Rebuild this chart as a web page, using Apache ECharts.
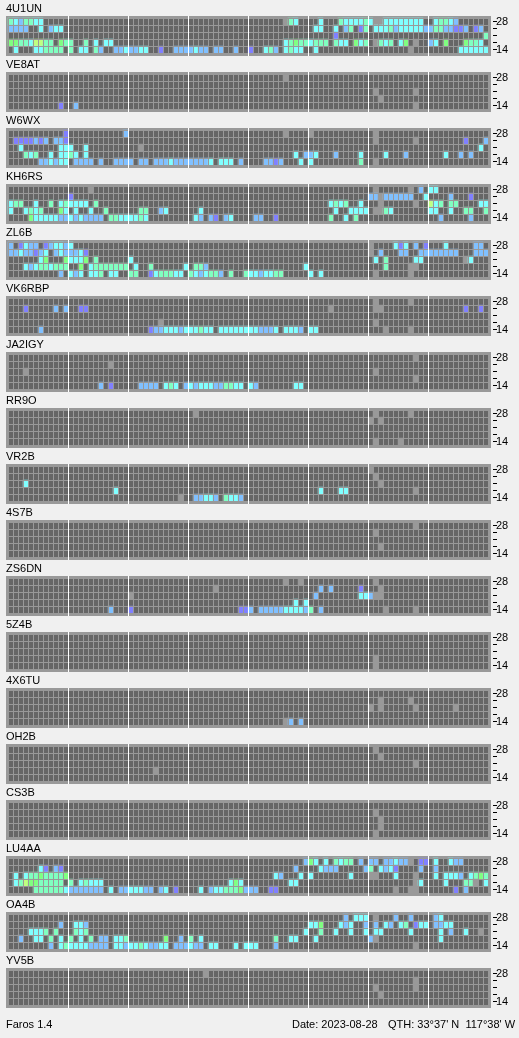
<!DOCTYPE html>
<html><head><meta charset="utf-8">
<style>html,body{margin:0;padding:0;background:#f0f0f0}#c{width:519px;height:1038px}</style>
<script src="https://cdn.jsdelivr.net/npm/echarts@6/dist/echarts.min.js"></script>
</head><body><div id="c"></div>
<script>
// Each beacon: five rows (28, 24, 21, 18, 14 MHz), flat pairs of column (15-min slot), level.
// Level 1..6 = signal strength, level 0 = slot with no monitoring (light gray).
const U4U1UN = [
 [0,4,1,3,2,2,3,4,4,4,5,3,6,3,55,0,56,4,57,3,62,3,66,4,67,3,68,3,69,3,70,3,71,4,72,3,73,0,74,0,75,3,76,3,77,3,78,3,79,3,80,3,81,3,82,3,85,3,86,4,87,4,88,3,89,2],
 [0,2,1,2,2,2,3,2,6,3,8,2,9,3,10,3,61,3,62,3,65,3,67,2,68,4,70,1,71,4,73,3,74,3,75,3,76,4,77,2,78,3,79,3,80,3,81,3,82,3,83,2,84,2,85,4,86,4,87,2,88,2,89,1,90,1,91,2,93,1,94,2],
 [65,1,95,4],
 [0,5,1,5,2,4,3,4,4,3,5,6,6,6,7,4,8,4,10,5,11,4,12,4,15,4,17,3,19,3,20,3,55,3,56,4,57,5,58,4,59,4,60,3,61,4,62,4,63,4,65,4,66,3,67,3,69,5,70,3,71,4,73,0,74,4,75,3,76,4,78,3,79,5,81,0,84,2,85,3,87,5,91,5,92,4,93,4,94,3],
 [1,3,5,3,6,3,7,4,8,4,9,4,10,4,12,4,14,3,15,3,17,4,18,2,21,2,22,2,23,3,24,2,25,2,26,3,27,3,30,1,33,2,34,2,35,2,36,2,37,3,38,2,39,2,41,2,42,2,45,2,48,1,51,3,52,4,53,2,55,3,56,4,57,3,58,3,61,3,80,0,90,3,91,3,92,3,93,3,94,3,95,3]
];
const VE8AT = [
 [55,0],[],[73,0,81,0],[74,0],[10,1,13,2,81,0]
];
const W6WX = [
 [11,1,23,2,55,0,60,0,73,0],
 [1,1,2,1,3,1,4,1,5,2,6,1,7,2,9,2,10,2,11,1,73,0,81,0,91,1,95,2],
 [2,3,10,3,11,3,12,3,15,3,26,0,94,3],
 [3,4,4,3,5,4,8,3,10,3,11,3,12,4,13,3,15,3,57,3,59,2,60,2,61,3,65,2,70,3,75,3,79,2,87,3,90,2,92,2],
 [6,2,7,2,8,3,9,2,10,3,11,3,13,2,14,2,15,2,16,2,18,2,21,2,22,2,23,2,24,2,26,2,27,2,29,2,30,2,31,2,32,3,33,2,34,2,35,2,36,2,37,2,38,2,39,2,40,3,42,3,43,3,44,3,46,2,51,2,52,2,53,1,54,2,58,3,60,3,70,4,73,0]
];
const KH6RS = [
 [16,0,73,0,80,0,82,2,84,3,85,3],
 [12,1,72,2,73,2,74,0,75,2,76,2,77,2,78,2,79,2,80,2,83,3,88,2,92,1],
 [0,3,1,4,2,4,5,3,8,4,10,3,11,4,12,3,13,3,14,3,15,3,17,4,64,3,65,4,66,3,67,4,70,3,74,0,81,0,84,6,85,3,86,4,88,4,89,4,94,3,95,3],
 [0,3,3,3,4,4,5,3,6,4,10,5,11,3,13,3,16,3,19,4,26,4,27,4,30,2,31,3,38,3,65,3,68,3,69,3,70,3,71,3,73,0,74,0,75,4,76,3,84,3,85,3,88,3,91,4,92,4,95,4],
 [4,5,5,3,6,3,7,3,8,3,9,3,10,2,11,2,12,3,13,2,14,3,15,2,16,2,17,2,18,2,20,4,21,4,22,3,23,3,24,3,25,3,26,4,27,3,37,3,38,2,40,2,41,1,43,2,44,3,49,2,50,2,53,1,64,4,67,3,69,4,86,2,92,2]
];
const ZL6B = [
 [0,2,2,1,3,3,4,2,5,2,7,1,8,2,9,3,10,3,11,2,12,3,72,0,77,3,78,1,79,3,81,2,83,1,87,3,93,2,94,2],
 [0,2,1,2,2,3,3,2,4,2,5,1,6,2,7,3,9,2,10,3,11,2,12,2,13,2,14,3,15,1,72,0,74,2,78,2,79,2,82,2,83,2,84,2,85,2,86,2,87,2,88,2,89,2,93,2,94,2,95,2],
 [6,3,7,5,11,5,12,3,13,3,14,3,15,5,17,4,24,3,73,3,75,4,81,3,82,3,91,0,92,3],
 [3,3,4,2,5,3,6,4,7,4,8,3,9,4,10,4,11,4,14,5,16,3,17,4,18,4,19,4,20,4,21,4,22,4,23,4,25,3,28,4,35,3,37,4,38,4,39,2,59,3,75,4,80,0,81,0],
 [10,2,12,3,13,2,14,3,16,3,17,3,18,4,20,3,21,3,24,4,25,4,28,1,29,3,30,4,31,4,32,4,33,3,34,3,36,4,37,3,38,2,39,3,40,4,41,4,42,2,44,4,47,4,48,3,49,3,50,2,51,3,52,3,53,4,54,4,60,3,62,3,73,0,80,0]
];
const VK6RBP = [
 [73,0,80,0],
 [3,1,9,2,11,2,14,1,15,1,64,0,73,0,74,0,91,1,94,1],
 [],
 [30,0,73,0],
 [6,2,28,1,29,2,30,2,31,3,32,3,33,3,34,2,35,3,36,3,37,3,38,4,39,3,40,3,42,3,43,3,44,3,45,3,46,3,47,3,48,3,49,3,50,2,51,2,52,2,53,3,55,3,56,3,57,3,58,2,60,3,61,3,75,0,80,0]
];
const JA2IGY = [
 [81,0],
 [20,0],
 [3,0,73,0],
 [81,0],
 [18,2,20,1,26,2,27,2,28,2,29,2,31,3,32,4,33,3,35,2,36,3,37,2,38,3,39,3,40,3,41,2,42,2,43,4,44,4,45,3,46,3,48,3,49,2,57,3,58,3]
];
const RR9O = [
 [37,0,73,0,80,0],
 [72,0,74,0],
 [],
 [],
 [73,0,78,0]
];
const VR2B = [
 [72,0],
 [73,0],
 [3,3,74,0],
 [21,3,62,3,66,3,67,3,81,0],
 [34,0,37,2,38,2,39,3,40,3,41,2,43,4,44,3,45,3,46,2]
];
const S4S7B = [
 [81,0],[73,0],[],[74,0],[]
];
const ZS6DN = [
 [55,0,58,0,73,0],
 [41,0,62,2,64,2,70,1,74,0],
 [24,0,61,2,70,3,71,3,72,2,73,0,74,0],
 [57,3,59,3],
 [20,2,24,1,46,1,47,1,48,2,50,2,51,2,52,2,53,2,54,2,55,3,56,3,57,3,58,3,59,2,60,4,62,2,75,0,81,0]
];
const Z5Z4B = [
 [],[],[],[73,0],[73,0]
];
const X4X6TU = [
 [],
 [74,0,80,0],
 [72,0,74,0,81,0,89,0],
 [],
 [55,0,56,2,58,2]
];
const OH2B = [
 [73,0],[74,0],[81,0],[29,0],[]
];
const CS3B = [
 [],[73,0],[74,0],[74,0],[73,0]
];
const LU4AA = [
 [59,2,60,5,61,3,63,3,65,4,66,3,67,4,68,4,70,2,72,2,73,2,75,2,76,2,77,3,78,2,79,2,80,0,82,1,83,1,85,3,88,3,89,2,90,2],
 [6,3,7,1,9,2,10,1,57,2,62,3,63,2,64,2,65,2,71,2,72,4,74,3,75,2,76,3,77,1,82,2,85,2],
 [1,3,3,3,4,4,5,4,6,5,7,4,8,4,9,4,10,4,11,5,53,3,54,2,58,3,60,3,68,3,72,0,73,0,77,3,81,0,85,3,87,3,88,3,89,3,90,2,92,3,93,4,94,5,95,4],
 [1,3,2,4,3,6,4,5,5,5,6,4,7,4,8,4,9,4,10,4,12,4,14,3,15,4,16,3,17,3,18,3,44,3,45,5,46,3,56,3,57,3,81,0,82,3,87,3,91,4,92,4,93,0,95,3],
 [5,4,6,4,7,4,8,4,9,4,10,4,11,3,12,2,13,2,14,2,15,2,16,2,17,2,18,2,20,3,22,2,23,2,24,3,25,3,26,3,27,2,28,2,30,2,31,3,33,1,38,3,40,2,41,3,42,3,43,4,44,4,45,4,46,5,47,2,48,2,49,2,52,1,53,1,77,0,80,0,81,0,89,1,91,2]
];
const OA4B = [
 [67,2,69,3,70,3,71,3,73,0,77,2,80,2,85,2,86,3],
 [10,2,13,3,14,3,15,2,60,3,61,3,62,5,66,3,67,2,68,3,71,2,73,2,75,3,76,2,78,3,79,4,81,1,82,3,83,3,85,2,86,2,87,3,88,3],
 [4,3,5,3,6,3,7,4,9,4,13,4,14,3,15,4,59,3,62,4,65,3,68,3,71,3,73,3,74,3,80,3,86,3,88,2,91,3,94,0],
 [2,2,5,3,6,3,8,4,10,3,12,4,14,3,16,4,18,2,19,2,21,3,22,3,23,4,31,5,34,2,36,4,38,3,53,4,56,3,57,3,61,3,72,2,73,0,86,3],
 [8,2,10,3,11,4,12,3,13,3,14,3,15,3,16,2,17,2,18,2,19,2,21,3,22,3,23,2,24,3,25,3,26,4,27,3,28,2,29,2,30,3,31,3,33,2,34,2,35,2,36,3,37,2,38,2,40,3,41,3,45,3,47,3,48,3,49,3,53,2,81,0]
];
const YV5B = [
 [39,0],[81,0],[73,0,81,0],[74,0],[]
];

const callsigns = ['4U1UN','VE8AT','W6WX','KH6RS','ZL6B','VK6RBP','JA2IGY','RR9O','VR2B','4S7B','ZS6DN','5Z4B','4X6TU','OH2B','CS3B','LU4AA','OA4B','YV5B'];
const beacons = [U4U1UN,VE8AT,W6WX,KH6RS,ZL6B,VK6RBP,JA2IGY,RR9O,VR2B,S4S7B,ZS6DN,Z5Z4B,X4X6TU,OH2B,CS3B,LU4AA,OA4B,YV5B];
const bands = ['14','18','21','24','28'];
const bandLabels = ['14','','','','28'];
const levelColors = ['#999999','#8080ff','#80c0ff','#80ffff','#80ffc0','#80ff80','#c0ff80'];
const slots = Array.from({length:96},(_,i)=>String(i));
const footerLeft = 'Faros 1.4';
const footerDate = 'Date: 2023-08-28';
const footerQth = "QTH: 33°37' N  117°38' W";

const FONT = '"Liberation Sans", Arial, sans-serif';
const PITCH = 56, TOP = 18, LEFT = 8, CELLS_W = 480, CELLS_H = 35;

const grid=[], xAxis=[], yAxis=[], series=[], title=[], graphic=[];
callsigns.forEach((name,i)=>{
  const top = TOP + PITCH*i;
  grid.push({left:LEFT, top:top, width:CELLS_W, height:CELLS_H, show:true, backgroundColor:'#666666', borderWidth:0, z:1});
  xAxis.push({type:'category', gridIndex:i, data:slots, z:5,
    axisLine:{show:false}, axisTick:{show:false}, axisLabel:{show:false},
    splitLine:{show:true, interval:0, lineStyle:{color:'#999999', width:1}}});
  yAxis.push({type:'category', gridIndex:i, data:bands, position:'right', offset:5, z:5,
    axisLine:{show:false},
    axisTick:{show:true, alignWithLabel:true, interval:0, length:4, lineStyle:{color:'#000', width:1}},
    axisLabel:{show:true, interval:0, margin:3, fontFamily:FONT, fontSize:11, color:'#000',
      formatter:(v,idx)=>bandLabels[idx]},
    splitLine:{show:true, interval:0, lineStyle:{color:'#999999', width:1}}});
  const data=[];
  beacons[i].forEach((row,r)=>{
    for(let k=0;k<row.length;k+=2) data.push([row[k],4-r,row[k+1]]);
  });
  series.push({type:'heatmap', xAxisIndex:i, yAxisIndex:i, data:data, z:2, silent:true, progressive:0, emphasis:{disabled:true}});
  title.push({text:name, left:6, top:top-15, padding:0, textStyle:{fontFamily:FONT, fontSize:11, fontWeight:'normal', color:'#000'}});
  graphic.push({type:'rect', z:-1, silent:true, shape:{x:6,y:top-2,width:485,height:40}, style:{fill:'#999999'}});
  for(let k=1;k<8;k++){
    graphic.push({type:'rect', z:10, silent:true, shape:{x:LEFT+60*k,y:top-2,width:1,height:40}, style:{fill:'#ffffff'}});
  }
});
title.push({text:footerLeft, left:6, top:1019, padding:0, textStyle:{fontFamily:FONT,fontSize:11,fontWeight:'normal',color:'#000'}});
title.push({text:footerDate, left:292, top:1019, padding:0, textStyle:{fontFamily:FONT,fontSize:11,fontWeight:'normal',color:'#000'}});
title.push({text:footerQth, left:388, top:1019, padding:0, textStyle:{fontFamily:FONT,fontSize:11,fontWeight:'normal',color:'#000'}});

const chart = echarts.init(document.getElementById('c'), null, {renderer:'canvas', width:519, height:1038});
chart.setOption({
  animation:false, backgroundColor:'#f0f0f0',
  title, grid, xAxis, yAxis, series, graphic,
  visualMap:{type:'piecewise', show:false, dimension:2, seriesIndex:series.map((_,i)=>i),
    pieces:levelColors.map((c,v)=>({value:v,color:c}))}
});
</script></body></html>
